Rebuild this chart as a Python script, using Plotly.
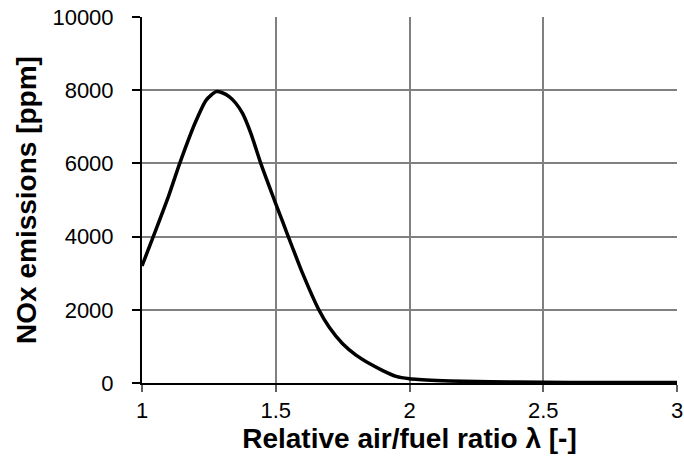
import plotly.graph_objects as go

lam = [1.0, 1.05, 1.1, 1.141, 1.2, 1.24, 1.277, 1.3, 1.327, 1.35, 1.376, 1.407, 1.444,
       1.487, 1.525, 1.56, 1.6, 1.661, 1.7, 1.75, 1.8, 1.85, 1.9, 1.95, 2.0, 2.1, 2.2,
       2.4, 2.6, 2.8, 3.0]
nox = [3200, 4150, 5120, 6000, 7130, 7730, 7960, 7930, 7820, 7650, 7365, 6820, 6000,
       5150, 4420, 3750, 3000, 2000, 1520, 1070, 760, 530, 340, 180, 115, 70, 45,
       25, 15, 12, 12]

x_ticks = [1, 1.5, 2, 2.5, 3]
x_labels = ["1", "1.5", "2", "2.5", "3"]
y_ticks = [0, 2000, 4000, 6000, 8000, 10000]
y_labels = ["0", "2000", "4000", "6000", "8000", "10000"]

fig = go.Figure()
fig.add_trace(go.Scatter(
    x=lam, y=nox, mode="lines",
    line=dict(color="black", width=3.5, shape="spline", smoothing=0.6),
    showlegend=False, hoverinfo="skip"))

fig.update_layout(
    width=684, height=461,
    margin=dict(l=142, r=7, t=17, b=78),
    paper_bgcolor="white", plot_bgcolor="white",
    font=dict(family="Liberation Sans, Arial, sans-serif", color="black"),
)
fig.update_xaxes(
    range=[1, 3], tickvals=x_ticks, ticktext=x_labels,
    showgrid=True, gridcolor="#808080", gridwidth=1.5,
    showline=True, linecolor="black", linewidth=2,
    ticks="outside", ticklen=7, tickcolor="#606060", tickwidth=1.5,
    tickfont=dict(size=22), zeroline=False, automargin=False,
    ticklabeloverflow="allow",
    title=dict(text="<b>Relative air/fuel ratio λ [-]</b>", font=dict(size=28), standoff=2),
)
fig.update_yaxes(
    range=[0, 10000], tickvals=y_ticks, ticktext=y_labels,
    showgrid=True, gridcolor="#808080", gridwidth=1.5,
    showline=True, linecolor="black", linewidth=2,
    ticks="outside", ticklen=8, tickcolor="black", tickwidth=1.5,
    tickfont=dict(size=22), zeroline=False, ticklabelstandoff=14, automargin=False,
    title=dict(text="<b>NOx emissions [ppm]</b>", font=dict(size=28), standoff=8),
)

fig.write_html("out.html")
